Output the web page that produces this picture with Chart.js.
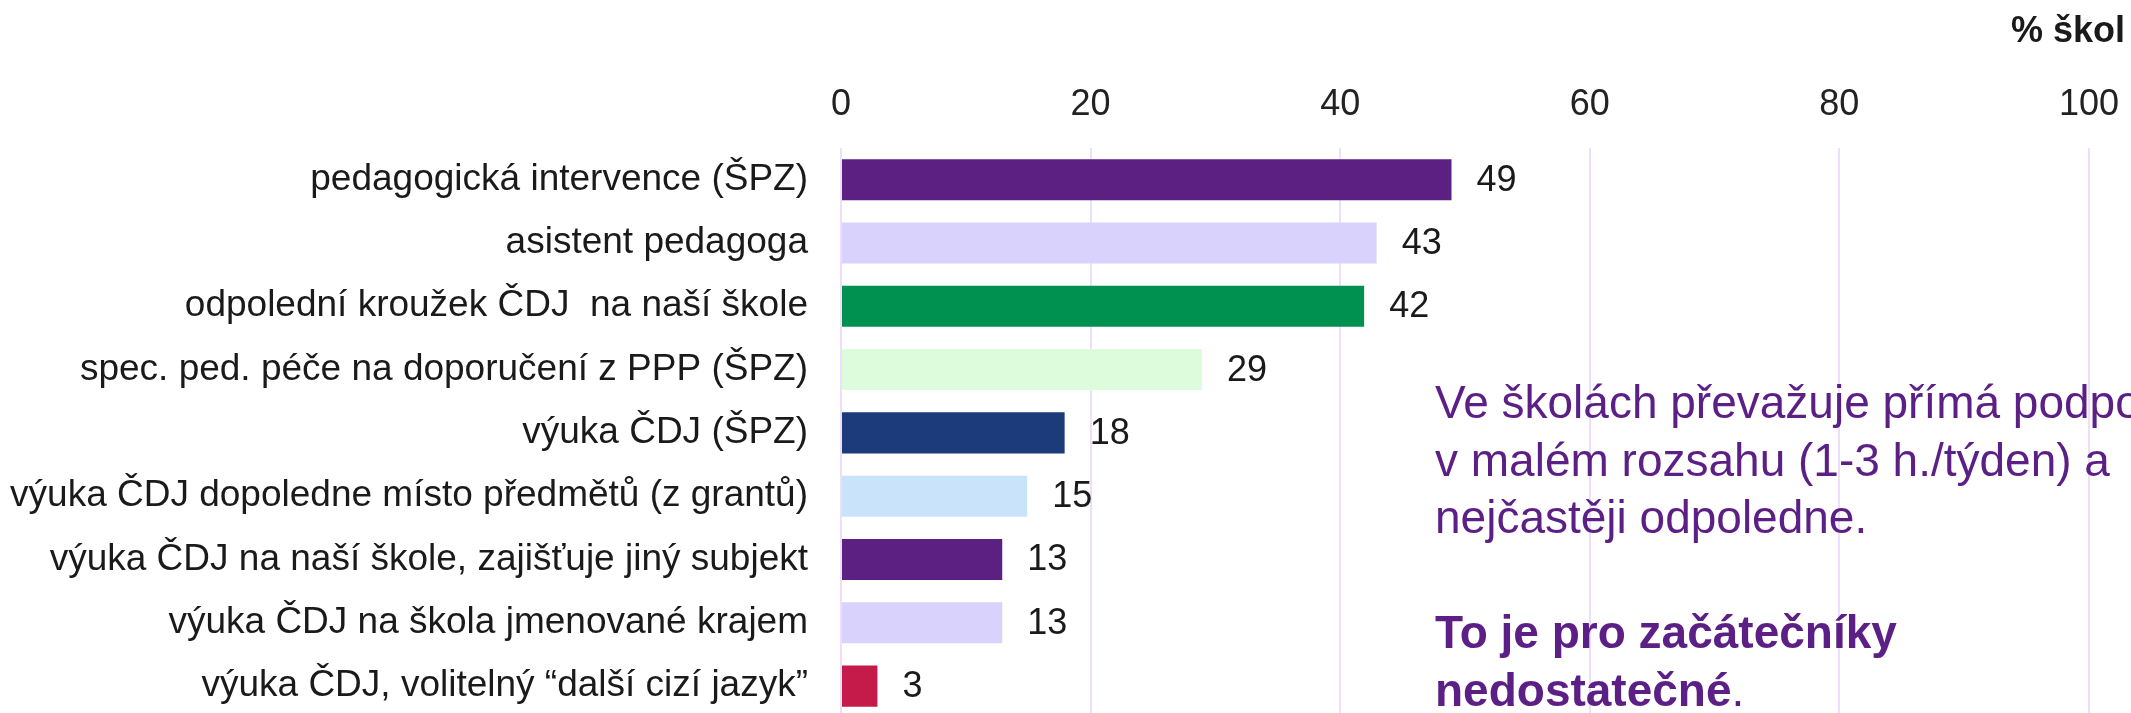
<!DOCTYPE html>
<html lang="cs">
<head>
    <meta charset="UTF-8">
    <title>Podpora ČDJ ve školách</title>
    <script src="https://cdn.jsdelivr.net/npm/chart.js"></script>
    <style>
        html, body { margin: 0; padding: 0; background: #fff; overflow: hidden; }
        #obal { position: relative; width: 2131px; height: 713px; overflow: hidden; }
        #graf { position: absolute; left: 0; top: 0; }
        .titulek {
            position: absolute; right: 6px; top: 12px;
            font: bold 36px "Liberation Sans", Arial, sans-serif; line-height: 36px;
            color: #1a1a1a; white-space: nowrap;
        }
        .komentar {
            position: absolute; left: 1435px; top: 374px;
            font: 46px "Liberation Sans", Arial, sans-serif; line-height: 57.5px;
            color: #5b1f85; white-space: nowrap;
        }
        .komentar b { font-weight: bold; }
    </style>
    <script>
        var kategorie = [
            "pedagogická intervence (ŠPZ)",
            "asistent pedagoga",
            "odpolední kroužek ČDJ  na naší škole",
            "spec. ped. péče na doporučení z PPP (ŠPZ)",
            "výuka ČDJ (ŠPZ)",
            "výuka ČDJ dopoledne místo předmětů (z grantů)",
            "výuka ČDJ na naší škole, zajišťuje jiný subjekt",
            "výuka ČDJ na škola jmenované krajem",
            "výuka ČDJ, volitelný “další cizí jazyk”"
        ];
        var procentaSkol = [49, 43, 42, 29, 18, 15, 13, 13, 3];
        var barvySloupcu = ["#5c1f82", "#d9d2fc", "#009150", "#dcfcdc", "#1b3b7b", "#c9e3fa", "#5c1f82", "#d9d2fc", "#c51b4b"];
        var znackyOsy = [0, 20, 40, 60, 80, 100];

        var popiskyHodnot = {
            id: 'popiskyHodnot',
            afterDatasetsDraw: function(chart) {
                var ctx = chart.ctx;
                var meta = chart.getDatasetMeta(0);
                ctx.save();
                ctx.font = '36px "Liberation Sans", Arial, sans-serif';
                ctx.fillStyle = '#1a1a1a';
                ctx.textBaseline = 'middle';
                ctx.textAlign = 'left';
                meta.data.forEach(function(sloupec, i) {
                    ctx.fillText(String(procentaSkol[i]), sloupec.x + 24, sloupec.y + 1);
                });
                ctx.restore();
            }
        };

        function nakreslitGraf() {
            var ctx = document.getElementById('graf').getContext('2d');
            new Chart(ctx, {
                type: 'bar',
                data: {
                    labels: kategorie,
                    datasets: [{
                        data: procentaSkol,
                        backgroundColor: barvySloupcu,
                        borderColor: 'rgba(255,255,255,0.3)',
                        borderWidth: 1,
                        barPercentage: 0.68,
                        categoryPercentage: 1
                    }]
                },
                options: {
                    indexAxis: 'y',
                    responsive: false,
                    animation: false,
                    layout: { padding: 0 },
                    plugins: {
                        legend: { display: false },
                        tooltip: { enabled: false }
                    },
                    scales: {
                        x: {
                            position: 'top',
                            min: 0,
                            max: 100,
                            afterFit: function(scale) { scale.height = 148; },
                            afterBuildTicks: function(scale) {
                                scale.ticks = znackyOsy.map(function(v) { return { value: v }; });
                            },
                            ticks: {
                                color: '#222',
                                padding: 21,
                                font: { family: '"Liberation Sans", Arial, sans-serif', size: 36 }
                            },
                            grid: { color: '#ecdffc', lineWidth: 2, drawTicks: false },
                            border: { display: false }
                        },
                        y: {
                            afterFit: function(scale) { scale.width = 841; },
                            ticks: {
                                color: '#1a1a1a',
                                padding: 33,
                                autoSkip: false,
                                font: { family: '"Liberation Sans", Arial, sans-serif', size: 37 }
                            },
                            grid: { display: false, drawTicks: false },
                            border: { display: false }
                        }
                    }
                },
                plugins: [popiskyHodnot]
            });
        }

        window.onload = function() {
            nakreslitGraf();
        };
    </script>
</head>
<body>
    <div id="obal">
        <canvas id="graf" width="2140" height="773"></canvas>
        <div class="titulek">% škol</div>
        <div class="komentar">Ve školách převažuje přímá podpora<br>v malém rozsahu (1-3 h./týden) a<br>nejčastěji odpoledne.<br><br><b>To je pro začátečníky<br>nedostatečné</b>.</div>
    </div>
</body>
</html>
